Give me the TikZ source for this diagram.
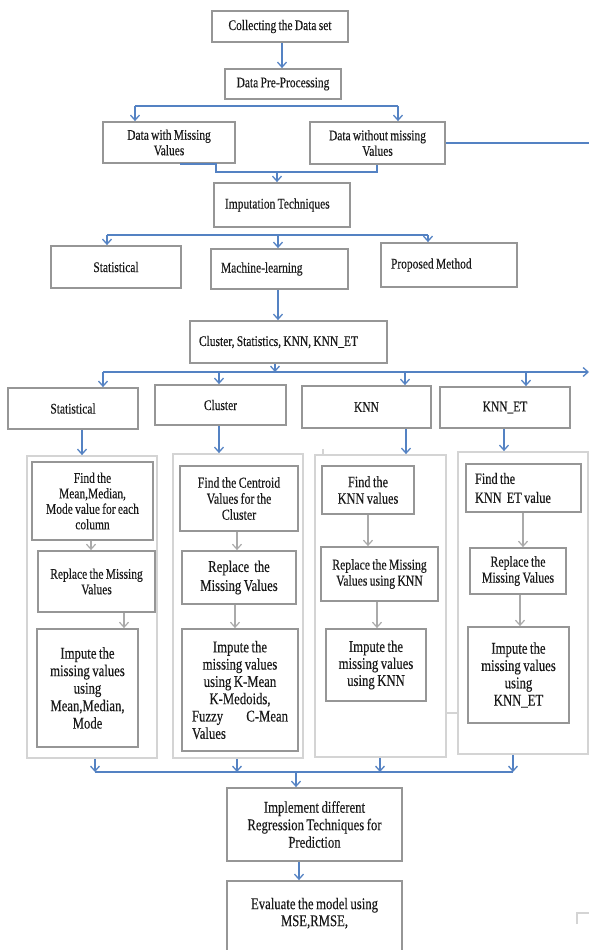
\documentclass[tikz,border=0pt]{standalone}
\usepackage{fontspec}
\setmainfont[FakeStretch=0.78,WordSpace=0.8,FakeBold=0.3]{Liberation Serif}
\usetikzlibrary{arrows.meta}
\definecolor{ablue}{RGB}{84,130,195}
\definecolor{agray}{RGB}{170,170,170}
\definecolor{bgray}{RGB}{150,150,150}
\definecolor{pgray}{RGB}{212,212,212}
\definecolor{txt}{RGB}{25,25,25}
\newcommand\fsz[2]{\fontsize{#1}{#2}\selectfont}
\begin{document}
\begin{tikzpicture}[x=1pt,y=-1pt,
  box/.style={draw=bgray,line width=1.8pt,inner sep=0pt,align=center,text=txt,font=\fsz{14.7}{16}},
  panel/.style={draw=pgray,line width=1.8pt,inner sep=0pt},
  bline/.style={draw=ablue,line width=1.3pt},
  barr/.style={bline,-{Straight Barb[length=5pt,width=9pt]}},
  garr/.style={draw=agray,line width=1.2pt,-{Straight Barb[length=5pt,width=9pt]}},
  pline/.style={draw=pgray,line width=1.5pt}]
\useasboundingbox (0,0) rectangle (589,950);
\clip (0,0) rectangle (589,950);

% top part
\node[box,minimum width=136pt,minimum height=31pt] (collect) at (280,26.5) {Collecting the Data set};
\node[box,minimum width=116pt,minimum height=30pt] (pp) at (283,84) {Data Pre-Processing};
\node[box,minimum width=132pt,minimum height=41pt,font=\fsz{14.7}{15.5}] (dwm) at (169,142.5) {Data with Missing\\Values};
\node[box,minimum width=135pt,minimum height=42pt,font=\fsz{14.7}{15.5}] (dwo) at (377.5,143) {Data without missing\\Values};
\node[box,inner xsep=11pt,minimum height=44pt] (imp) at (282,205) {\makebox[114pt][l]{Imputation Techniques}};
\node[box,minimum width=130pt,minimum height=42pt] (stat1) at (116,267) {Statistical};
\node[box,inner xsep=10pt,minimum height=40pt] (ml) at (279.5,269) {\makebox[117pt][l]{Machine-learning}};
\node[box,inner xsep=10pt,minimum height=44pt] (prop) at (449,265) {\makebox[116pt][l]{Proposed Method}};
\node[box,inner xsep=9pt,minimum height=42pt] (csk) at (288.5,342) {\makebox[179pt][l]{Cluster, Statistics, KNN, KNN\_ET}};

% level 3
\node[box,minimum width=130pt,minimum height=41pt] (st2) at (73,408.5) {Statistical};
\node[box,minimum width=131pt,minimum height=40pt] (cl) at (220.5,405) {Cluster};
\node[box,minimum width=129pt,minimum height=42pt] (knn) at (366.5,407) {KNN};
\node[box,minimum width=130pt,minimum height=41pt] (ket) at (505,407.5) {KNN\_ET};

% panels
\node[panel,minimum width=130pt,minimum height=302pt] (p1) at (92,607) {};
\node[panel,minimum width=130pt,minimum height=304pt] (p2) at (238,606) {};
\node[panel,minimum width=131pt,minimum height=302pt] (p3) at (380.5,606) {};
\node[panel,minimum width=130pt,minimum height=302pt] (p4) at (523,603) {};

% column 1
\node[box,minimum width=121pt,minimum height=78pt,font=\fsz{14.7}{15.5}] (c1a) at (92.5,501) {Find the\\Mean,Median,\\Mode value for each\\column};
\node[box,minimum width=117pt,minimum height=61pt,font=\fsz{14.7}{15.5}] (c1b) at (96.5,581.5) {Replace the Missing\\Values};
\node[box,minimum width=101pt,minimum height=118pt,font=\fsz{16.3}{17.5}] (c1c) at (87.5,688) {Impute the\\missing values\\using\\Mean,Median,\\Mode};

% column 2
\node[box,minimum width=118pt,minimum height=65pt,font=\fsz{15.2}{16}] (c2a) at (239,498.5) {Find the Centroid\\Values for the\\Cluster};
\node[box,minimum width=114pt,minimum height=53pt,font=\fsz{16.3}{19}] (c2b) at (239,577.5) {Replace\ \ the\\Missing Values};
\node[box,minimum width=116pt,minimum height=122pt,font=\fsz{16.3}{17.3}] (c2c) at (240,690) {Impute the\\missing values\\using K-Mean\\K-Medoids,\\\makebox[96pt][s]{Fuzzy\hfill C-Mean}\\\makebox[96pt][l]{Values}};

% column 3
\node[box,minimum width=92pt,minimum height=48pt,font=\fsz{15.8}{16.5}] (c3a) at (368,490) {Find the\\KNN values};
\node[box,minimum width=117pt,minimum height=54pt,font=\fsz{15}{16}] (c3b) at (379.5,574) {Replace the Missing\\Values using KNN};
\node[box,minimum width=100pt,minimum height=72pt,font=\fsz{16.3}{17}] (c3c) at (376,665) {Impute the\\missing values\\using KNN};

% column 4
\node[box,inner xsep=9pt,minimum height=48pt,font=\fsz{15.8}{19}] (c4a) at (523.5,488) {\makebox[97pt][l]{Find the}\\\makebox[97pt][l]{KNN\hspace{5pt}ET value}};
\node[box,minimum width=96pt,minimum height=46pt,font=\fsz{15.2}{16}] (c4b) at (518,571) {Replace the\\Missing Values};
\node[box,minimum width=101pt,minimum height=96pt,font=\fsz{16.3}{17.3}] (c4c) at (518.5,675) {Impute the\\missing values\\using\\KNN\_ET};

% bottom
\node[box,minimum width=175pt,minimum height=73pt,font=\fsz{16.3}{17.5}] (impl) at (314.5,824.5) {Implement different\\Regression Techniques for\\Prediction};
\node[box,minimum width=175pt,minimum height=84pt,font=\fsz{16.3}{17}] (eval) at (314.5,923) {Evaluate the model using\\MSE,RMSE,\\\strut};

% connectors, top
\draw[barr] (282,0 |- collect.south) -- (282,0 |- pp.north);
\coordinate (s1) at (135,106);
\coordinate (s2) at (398,106);
\draw[bline] (s1) -- (s2);
\draw[barr] (s1) -- (s1 |- dwm.north);
\draw[barr] (s2) -- (s2 |- dwo.north);
\coordinate (redge) at (589,143);
\draw[bline] (dwo.east) -- (redge);
\draw[bline] (180,0 |- dwm.south) -- (216,0 |- dwm.south) -- (216,172) -- (377,172) -- (377,0 |- dwo.south);
\coordinate (b3) at (277,172);
\draw[barr] (b3) -- (b3 |- imp.north);

\coordinate (t1) at (107,235);
\coordinate (t2) at (278,235);
\coordinate (t3) at (428,235);
\draw[bline] (t1) -- (t3);
\draw[barr] (t1) -- (t1 |- stat1.north);
\draw[barr] (t2) -- (t2 |- ml.north);
\draw[barr] (t3) -- (t3 |- prop.north);
\draw[barr] (278,0 |- ml.south) -- (278,0 |- csk.north);

\coordinate (u0) at (275,372);
\coordinate (u1) at (103,372);
\coordinate (u2) at (219,372);
\coordinate (u3) at (405,372);
\coordinate (u4) at (526,372);
\coordinate (uend) at (589,372);
\draw[barr] (u0 |- csk.south) -- (u0);
\draw[barr] (u1) -- (uend);
\draw[barr] (u1) -- (u1 |- st2.north);
\draw[barr] (u2) -- (u2 |- cl.north);
\draw[barr] (u3) -- (u3 |- knn.north);
\draw[barr] (u4) -- (u4 |- ket.north);

\draw[barr] (82,0 |- st2.south) -- (82,0 |- p1.north);
\draw[barr] (219,0 |- cl.south) -- (219,0 |- p2.north);
\draw[barr] (406,0 |- knn.south) -- (406,0 |- p3.north);
\draw[barr] (504,0 |- ket.south) -- (504,0 |- p4.north);

% inner gray arrows
\draw[garr] (91,0 |- c1a.south) -- (91,0 |- c1b.north);
\draw[garr] (124,0 |- c1b.south) -- (124,0 |- c1c.north);
\draw[garr] (237,0 |- c2a.south) -- (237,0 |- c2b.north);
\draw[garr] (235,0 |- c2b.south) -- (235,0 |- c2c.north);
\draw[garr] (368,0 |- c3a.south) -- (368,0 |- c3b.north);
\draw[garr] (377,0 |- c3b.south) -- (377,0 |- c3c.north);
\draw[garr] (523,0 |- c4a.south) -- (523,0 |- c4b.north);
\draw[garr] (520,0 |- c4b.south) -- (520,0 |- c4c.north);

\draw[pline] (p3.east |- 0,713) -- (p4.west |- 0,713);
\draw[pline] (323,449) -- (323,455);
\draw[pline] (577,924) -- (577,913) -- (589,913);

% bottom connectors
\coordinate (v1) at (95,772);
\coordinate (v2) at (237,772);
\coordinate (v3) at (380,772);
\coordinate (v4) at (513,772);
\coordinate (v0) at (296,772);
\draw[bline] (v1) -- (v4);
\draw[barr] (v1 |- p1.south) -- (v1);
\draw[barr] (v2 |- p2.south) -- (v2);
\draw[barr] (v3 |- p3.south) -- (v3);
\draw[barr] (v4 |- p4.south) -- (v4);
\draw[barr] (v0) -- (v0 |- impl.north);
\draw[barr] (299,0 |- impl.south) -- (299,0 |- eval.north);
\end{tikzpicture}
\end{document}
